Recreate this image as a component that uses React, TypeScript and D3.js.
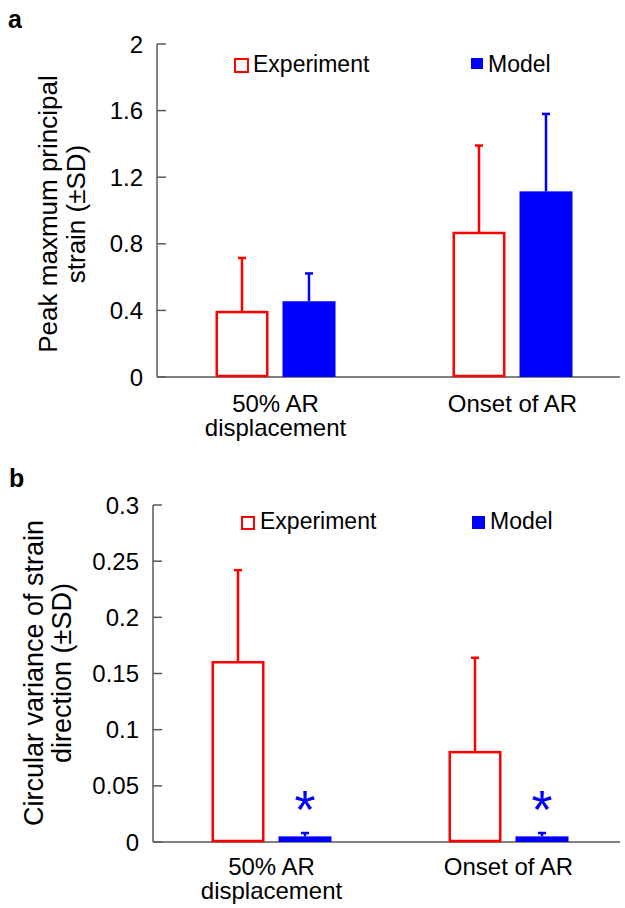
import React from "react";
import * as d3 from "d3";

const categories = ["50% AR|displacement", "Onset of AR"];
const seriesNames = ["Experiment", "Model"];

// panel a: peak maximum principal strain
const strainTicks = [0, 0.4, 0.8, 1.2, 1.6, 2];
const strainTickLabels = ["0", "0.4", "0.8", "1.2", "1.6", "2"];
const expStrain = [0.39, 0.865];
const expStrainSD = [0.325, 0.525];
const modelStrain = [0.455, 1.115];
const modelStrainSD = [0.167, 0.465];

// panel b: circular variance of strain direction
const cvTicks = [0, 0.05, 0.1, 0.15, 0.2, 0.25, 0.3];
const cvTickLabels = ["0", "0.05", "0.1", "0.15", "0.2", "0.25", "0.3"];
const expCV = [0.16, 0.08];
const expCVSD = [0.082, 0.084];
const modelCV = [0.005, 0.005];
const modelCVSD = [0.003, 0.003];
const modelSignificant = [true, true];

const RED = "#ff0000";
const BLUE = "#0000ff";
const AXIS = "#595959";
const FONT = "'Liberation Sans', Arial, sans-serif";

type PanelProps = {
  label: string;
  labelX: number;
  labelY: number;
  axisX: number;
  yTop: number;
  y0: number;
  xRight: number;
  yMax: number;
  ticks: number[];
  tickLabels: string[];
  title: string[];
  titleX: number[];
  titleMid: number;
  titleSize: number;
  exp: number[];
  expSD: number[];
  model: number[];
  modelSD: number[];
  legendY: number;
  legendRed: [number, number, number];
  legendBlue: [number, number, number, number];
  legendTextX: [number, number];
  catBaseline: number;
  stars?: boolean[];
};

function Panel(p: PanelProps) {
  const y = d3.scaleLinear().domain([0, p.yMax]).range([p.y0, p.yTop]);
  const x0 = d3
    .scaleBand<string>()
    .domain(categories)
    .range([p.axisX, p.axisX + 474])
    .padding(0);
  const x1 = d3
    .scaleBand<string>()
    .domain(seriesNames)
    .range([-60, 60])
    .paddingInner(0.209)
    .paddingOuter(0);
  const bw = x1.bandwidth();
  const cx = (c: string) => (x0(c) as number) + x0.bandwidth() / 2;
  const capW = 4;
  const tickLen = 9;

  return (
    <g fontFamily={FONT}>
      <text x={p.labelX} y={p.labelY} fontSize={25} fontWeight="bold" fill="#000">
        {p.label}
      </text>
      {/* y axis title */}
      {p.title.map((t, i) => (
        <text
          key={i}
          transform={`translate(${p.titleX[i]},${p.titleMid}) rotate(-90)`}
          textAnchor="middle"
          fontSize={p.titleSize}
          fill="#000"
        >
          {t}
        </text>
      ))}
      {/* y axis */}
      <line x1={p.axisX} x2={p.axisX} y1={p.yTop} y2={p.y0} stroke={AXIS} strokeWidth={1.5} />
      {p.ticks.map((t, i) => (
        <g key={i}>
          <line
            x1={p.axisX}
            x2={p.axisX + tickLen}
            y1={y(t)}
            y2={y(t)}
            stroke={AXIS}
            strokeWidth={1.5}
          />
          <text
            x={p.axisX - 14}
            y={y(t)}
            dy="0.36em"
            textAnchor="end"
            fontSize={24}
            fill="#000"
          >
            {p.tickLabels[i]}
          </text>
        </g>
      ))}
      {/* x axis */}
      <line x1={p.axisX} x2={p.xRight} y1={p.y0} y2={p.y0} stroke={AXIS} strokeWidth={1.5} />
      {/* bars */}
      {categories.map((c, i) => {
        const ex = cx(c) + (x1("Experiment") as number);
        const mx = cx(c) + (x1("Model") as number);
        const eTop = y(p.exp[i]);
        const mTop = y(p.model[i]);
        const eErr = y(p.exp[i] + p.expSD[i]);
        const mErr = y(p.model[i] + p.modelSD[i]);
        return (
          <g key={c}>
            <line x1={ex + bw / 2} x2={ex + bw / 2} y1={eTop} y2={eErr} stroke={RED} strokeWidth={2.5} />
            <line x1={ex + bw / 2 - capW} x2={ex + bw / 2 + capW} y1={eErr} y2={eErr} stroke={RED} strokeWidth={2.5} />
            <rect
              x={ex + 1.25}
              y={eTop}
              width={bw - 2.5}
              height={p.y0 - eTop - 1}
              fill="#fff"
              stroke={RED}
              strokeWidth={2.5}
            />
            <line x1={mx + bw / 2} x2={mx + bw / 2} y1={mTop} y2={mErr} stroke={BLUE} strokeWidth={2.5} />
            <line x1={mx + bw / 2 - capW} x2={mx + bw / 2 + capW} y1={mErr} y2={mErr} stroke={BLUE} strokeWidth={2.5} />
            <rect x={mx} y={mTop} width={bw} height={p.y0 - mTop} fill={BLUE} />
            {p.stars && p.stars[i] ? (
              <text
                x={mx + bw / 2}
                y={y(p.model[i] + p.modelSD[i]) - 5}
                textAnchor="middle"
                fontSize={54}
                fill={BLUE}
              >
                *
              </text>
            ) : null}
            {c.split("|").map((line, k) => (
              <text
                key={k}
                x={cx(c)}
                y={p.catBaseline + k * 24}
                textAnchor="middle"
                fontSize={24}
                fill="#000"
              >
                {line}
              </text>
            ))}
          </g>
        );
      })}
      {/* legend */}
      <rect
        x={p.legendRed[0] + 1}
        y={p.legendY + 1}
        width={p.legendRed[2] - 2}
        height={p.legendRed[2] - 2}
        fill="#fff"
        stroke={RED}
        strokeWidth={2}
      />
      <text x={p.legendTextX[0]} y={p.legendY + p.legendRed[1]} fontSize={23} fill="#000">
        {seriesNames[0]}
      </text>
      <rect
        x={p.legendBlue[0]}
        y={p.legendY}
        width={p.legendBlue[2]}
        height={p.legendBlue[3]}
        fill={BLUE}
      />
      <text x={p.legendTextX[1]} y={p.legendY + p.legendBlue[1]} fontSize={23} fill="#000">
        {seriesNames[1]}
      </text>
    </g>
  );
}

export default function App() {
  return (
    <svg
      width={625}
      height={908}
      style={{ position: "absolute", left: 0, top: 0, background: "#fff" }}
    >
      <rect width={625} height={908} fill="#fff" />
      <Panel
        label="a"
        labelX={8}
        labelY={28}
        axisX={157}
        yTop={44}
        y0={377}
        xRight={620}
        yMax={2}
        ticks={strainTicks}
        tickLabels={strainTickLabels}
        title={["Peak maxmum principal", "strain (±SD)"]}
        titleX={[57, 85]}
        titleMid={214}
        titleSize={26}
        exp={expStrain}
        expSD={expStrainSD}
        model={modelStrain}
        modelSD={modelStrainSD}
        legendY={58}
        legendRed={[234, 14, 15]}
        legendBlue={[471, 14, 12, 11]}
        legendTextX={[253, 488]}
        catBaseline={412}
      />
      <Panel
        label="b"
        labelX={9}
        labelY={487}
        axisX={153}
        yTop={505}
        y0={842}
        xRight={620}
        yMax={0.3}
        ticks={cvTicks}
        tickLabels={cvTickLabels}
        title={["Circular variance of strain", "direction (±SD)"]}
        titleX={[43, 71]}
        titleMid={673}
        titleSize={27}
        exp={expCV}
        expSD={expCVSD}
        model={modelCV}
        modelSD={modelCVSD}
        legendY={516}
        legendRed={[241, 13, 14]}
        legendBlue={[472, 13, 13, 13]}
        legendTextX={[260, 490]}
        catBaseline={875}
        stars={modelSignificant}
      />
    </svg>
  );
}
